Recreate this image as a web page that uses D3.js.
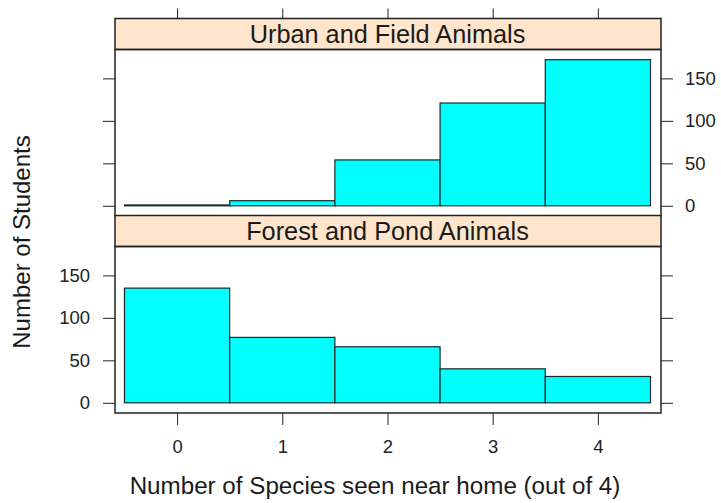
<!DOCTYPE html>
<html>
<head>
<meta charset="utf-8">
<script src="https://cdn.jsdelivr.net/npm/d3@7"></script>
<style>
  html, body { margin: 0; padding: 0; background: #fff; }
  svg { display: block; font-family: "Liberation Sans", Arial, sans-serif; }
</style>
</head>
<body>
<svg id="chart" width="721" height="503"></svg>
<script>
// Species-count histograms, one panel per animal group
const speciesCounts = [0, 1, 2, 3, 4];
const panelNames = ["Urban and Field Animals", "Forest and Pond Animals"];
const urbanFieldStudents = [1, 6, 54, 121, 172];
const forestPondStudents = [135, 77, 66, 40, 31];
const yTickValues = [0, 50, 100, 150];
const xTickValues = [0, 1, 2, 3, 4];

const svg = d3.select("#chart");
const left = 115, right = 661;
const stripH = 31;
const panels = [
  { name: panelNames[0], values: urbanFieldStudents, top: 18.5 },
  { name: panelNames[1], values: forestPondStudents, top: 215.5 }
];
const panelH = 166.5;
const tickLen = 12;
const ink = "#222";

const x = d3.scaleLinear().domain([-0.59, 4.6]).range([left, right]);

panels.forEach((p, i) => {
  const y0 = p.top + stripH;
  const y1 = y0 + panelH;
  const y = d3.scaleLinear().domain([-12, 184]).range([y1, y0]);

  // strip
  svg.append("rect")
    .attr("x", left).attr("y", p.top)
    .attr("width", right - left).attr("height", stripH)
    .attr("fill", "#ffe5cc").attr("stroke", ink).attr("stroke-width", 1.5);
  svg.append("text")
    .attr("x", (left + right) / 2 - 0.5).attr("y", p.top + stripH / 2 + 9)
    .attr("text-anchor", "middle").attr("font-size", 25.3).attr("fill", "#1a1a1a")
    .text(p.name);

  // bars
  svg.append("g").selectAll("rect")
    .data(speciesCounts)
    .join("rect")
    .attr("x", d => x(d - 0.5))
    .attr("width", d => x(d + 0.5) - x(d - 0.5))
    .attr("y", (d, j) => y(p.values[j]))
    .attr("height", (d, j) => y(0) - y(p.values[j]))
    .attr("fill", "#00ffff").attr("stroke", "#1a2a2a").attr("stroke-width", 1.2);

  // panel border
  svg.append("rect")
    .attr("x", left).attr("y", y0)
    .attr("width", right - left).attr("height", panelH)
    .attr("fill", "none").attr("stroke", ink).attr("stroke-width", 1.5);

  // y axes: labels alternate sides
  const leftAxis = d3.axisLeft(y).tickValues(yTickValues).tickSize(tickLen).tickPadding(13).tickFormat(d3.format("d"));
  const rightAxis = d3.axisRight(y).tickValues(yTickValues).tickSize(tickLen).tickPadding(12).tickFormat(d3.format("d"));
  if (i === 0) leftAxis.tickFormat(""); else rightAxis.tickFormat("");
  const gl = svg.append("g").attr("transform", `translate(${left},0)`).call(leftAxis);
  const gr = svg.append("g").attr("transform", `translate(${right},0)`).call(rightAxis);
  [gl, gr].forEach(g => {
    g.select(".domain").remove();
    g.selectAll("line").attr("stroke", ink);
    g.selectAll("text").attr("font-size", 18.5).attr("fill", "#222")
      .attr("font-family", "'Liberation Sans', Arial, sans-serif");
  });
});

// x axes: ticks on top of the upper strip, labelled ticks under the lower panel
const topAxis = d3.axisTop(x).tickValues(xTickValues).tickSize(10).tickFormat("");
const gt = svg.append("g").attr("transform", `translate(0,${panels[0].top})`).call(topAxis);
const bottomY = panels[1].top + stripH + panelH;
const bottomAxis = d3.axisBottom(x).tickValues(xTickValues).tickSize(tickLen).tickPadding(15).tickFormat(d3.format("d"));
const gb = svg.append("g").attr("transform", `translate(0,${bottomY})`).call(bottomAxis);
[gt, gb].forEach(g => {
  g.select(".domain").remove();
  g.selectAll("line").attr("stroke", ink);
  g.selectAll("text").attr("font-size", 18.5).attr("fill", "#222")
    .attr("font-family", "'Liberation Sans', Arial, sans-serif");
});

// axis titles
svg.append("text")
  .attr("x", 375).attr("y", 494)
  .attr("text-anchor", "middle").attr("font-size", 24.2).attr("fill", "#1a1a1a")
  .text("Number of Species seen near home (out of 4)");
svg.append("text")
  .attr("transform", "translate(30,242) rotate(-90)")
  .attr("text-anchor", "middle").attr("font-size", 24).attr("fill", "#1a1a1a")
  .text("Number of Students");
</script>
</body>
</html>
